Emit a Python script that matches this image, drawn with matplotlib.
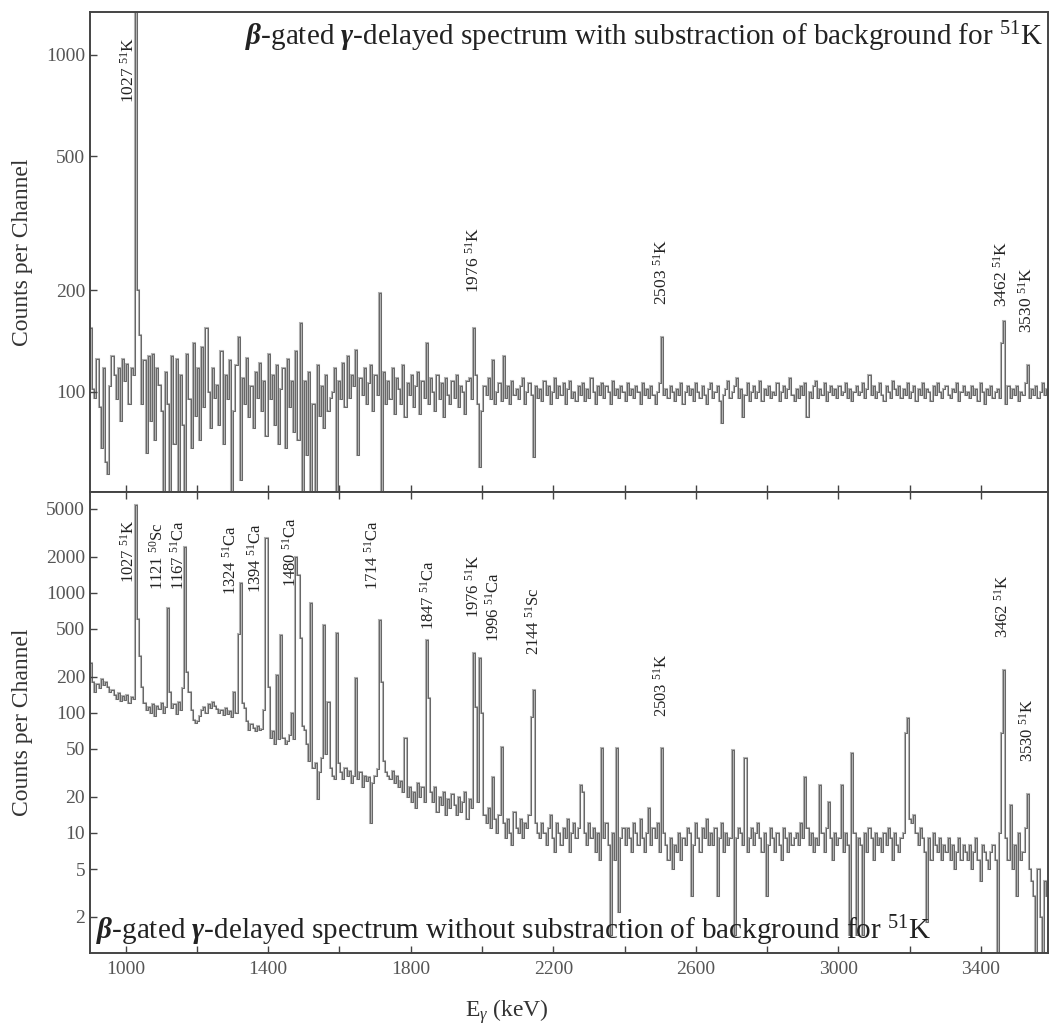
# spectre gamma retarde 51K : avec et sans soustraction du fond
import numpy as np
import matplotlib.pyplot as plt

plt.rcParams['font.family'] = ['Liberation Serif', 'DejaVu Serif']
plt.rcParams['mathtext.fontset'] = 'custom'
plt.rcParams['mathtext.rm'] = 'Liberation Serif'
plt.rcParams['mathtext.it'] = 'Liberation Serif:italic'
plt.rcParams['mathtext.bf'] = 'Liberation Serif:bold:italic'

# canaux de 6 keV a partir de 900 keV
e_start = 900
bin_width = 6

# spectre avec soustraction du fond (coups par canal)
counts_sub = [
    155, 102, 96, 125, 90, 68, 118, 62, 57, 104,
    128, 112, 95, 118, 82, 125, 108, 121, 92, 118,
    112, 3000, 200, 148, 92, 124, 66, 128, 82, 130,
    72, 118, 105, 88, 40, 115, 92, 38, 128, 70,
    125, 40, 112, 80, 42, 130, 95, 68, 140, 85,
    118, 72, 136, 90, 155, 100, 78, 118, 96, 105,
    80, 132, 70, 112, 95, 124, 40, 88, 120, 146,
    55, 110, 92, 126, 84, 104, 78, 115, 96, 122,
    88, 108, 74, 130, 95, 112, 80, 120, 70, 102,
    118, 68, 125, 90, 108, 76, 132, 72, 160, 40,
    108, 65, 115, 40, 92, 40, 120, 85, 104, 78,
    112, 88, 96, 100, 118, 40, 108, 95, 122, 90,
    128, 96, 112, 104, 133, 65, 110, 98, 118, 92,
    106, 120, 88, 112, 98, 197, 40, 115, 92, 108,
    95, 118, 86, 110, 102, 92, 120, 84, 106, 98,
    112, 90, 104, 115, 86, 108, 96, 140, 92, 110,
    100, 88, 112, 95, 106, 84, 110, 98, 92, 108,
    96, 112, 90, 104, 100, 86, 108, 110, 95, 155,
    112, 92, 60, 88, 104, 98, 110, 95, 124, 92,
    100, 106, 94, 128, 96, 104, 92, 108, 98, 102,
    95, 104, 110, 92, 100, 106, 98, 64, 104, 96,
    102, 94, 108, 98, 104, 92, 100, 110, 96, 104,
    98, 106, 92, 102, 108, 96, 100, 94, 104, 98,
    106, 94, 102, 96, 110, 100, 92, 104, 98, 106,
    96, 104, 100, 92, 108, 98, 102, 96, 104, 100,
    94, 106, 98, 102, 96, 104, 100, 92, 106, 98,
    102, 96, 104, 98, 92, 100, 106, 146, 98, 102,
    96, 104, 100, 94, 102, 98, 106, 92, 100, 104,
    98, 102, 94, 106, 100, 96, 104, 98, 92, 102,
    106, 96, 100, 104, 94, 81, 98, 102, 108, 96,
    100, 104, 110, 96, 102, 84, 98, 106, 94, 100,
    104, 96, 100, 108, 94, 102, 98, 104, 96, 100,
    98, 106, 94, 100, 104, 96, 102, 110, 98, 94,
    102, 96, 104, 98, 106, 84, 100, 96, 104, 108,
    96, 102, 98, 106, 94, 100, 104, 98, 102, 96,
    104, 98, 100, 106, 96, 102, 94, 100, 104, 98,
    100, 106, 96, 102, 112, 98, 104, 96, 100, 106,
    98, 94, 104, 100, 96, 108, 102, 98, 104, 96,
    102, 98, 106, 96, 100, 104, 94, 102, 98, 106,
    96, 102, 100, 94, 104, 98, 106, 100, 96, 102,
    104, 98, 96, 102, 100, 106, 94, 100, 104, 98,
    100, 96, 104, 98, 102, 94, 106, 100, 92, 102,
    98, 104, 96, 100, 102, 96, 140, 162, 92, 104,
    96, 102, 98, 104, 94, 100, 98, 106, 120, 96,
    102, 98, 104, 96, 100, 106, 98, 102, 96, 100,
]

# spectre sans soustraction du fond
counts_raw = [
    260, 180, 150, 175, 160, 190, 170, 180, 165, 150,
    155, 140, 130, 145, 125, 138, 128, 140, 120, 135,
    130, 5400, 600, 300, 165, 120, 105, 112, 100, 118,
    95, 115, 108, 120, 100, 112, 750, 150, 110, 118,
    98, 122, 105, 160, 2420, 220, 150, 105, 88, 82,
    85, 95, 105, 112, 100, 118, 110, 122, 115, 108,
    100, 105, 96, 110, 98, 104, 92, 150, 100, 450,
    1210, 120, 110, 85, 72, 80, 75, 70, 78, 72,
    74, 105, 2870, 165, 62, 70, 55, 207, 60, 446,
    62, 55, 58, 66, 100, 60, 2000, 1400, 420, 78,
    72, 55, 40, 825, 35, 38, 19, 32, 42, 540,
    45, 124, 35, 30, 28, 464, 38, 32, 28, 35,
    30, 33, 26, 30, 196, 28, 32, 24, 30, 27,
    29, 12, 26, 30, 34, 596, 181, 40, 32, 30,
    28, 33, 26, 30, 24, 27, 22, 62, 20, 24,
    18, 22, 16, 26, 20, 24, 18, 406, 134, 22,
    18, 24, 15, 20, 17, 22, 14, 19, 16, 21,
    17, 14, 20, 15, 18, 22, 13, 19, 16, 316,
    112, 18, 288, 100, 14, 12, 16, 11, 29, 13,
    10, 14, 52, 12, 9, 13, 10, 8, 15, 11,
    10, 13, 9, 12, 11, 14, 93, 155, 12, 10,
    9, 12, 10, 8, 11, 14, 9, 7, 12, 10,
    8, 11, 9, 13, 7, 10, 12, 9, 11, 25,
    22, 10, 8, 12, 9, 11, 7, 10, 6, 51,
    9, 12, 8, 1.4, 10, 6, 51, 2.2, 9, 11,
    8, 11, 9, 7, 12, 10, 8, 13, 9, 7,
    10, 16, 8, 11, 9, 12, 7, 51, 10, 8,
    6, 9, 5, 8, 7, 10, 6, 9, 8, 11,
    10, 3, 8, 12, 9, 7, 11, 9, 13, 8,
    10, 8, 11, 3, 9, 12, 7, 10, 8, 9,
    49, 1.4, 9, 11, 10, 8, 42, 7, 9, 11,
    8, 10, 12, 9, 7, 10, 3, 8, 11, 9,
    7, 10, 8, 6, 11, 9, 7, 10, 8, 9,
    10, 8, 12, 9, 29, 11, 8, 10, 7, 9,
    8, 25, 10, 7, 11, 18, 9, 6, 10, 8,
    9, 25, 7, 10, 8, 1.4, 46, 10, 1.4, 9,
    8, 1.4, 10, 7, 11, 9, 6, 10, 8, 9,
    7, 10, 8, 11, 9, 6, 10, 8, 7, 9,
    10, 68, 91, 13, 12, 14, 10, 8, 11, 9,
    7, 1.8, 9, 6, 10, 8, 7, 9, 6, 8,
    7, 9, 6, 8, 5, 7, 9, 6, 8, 7,
    6, 8, 5, 7, 9, 6, 4, 8, 7, 6,
    5, 7, 8, 6, 0.5, 10, 68, 228, 9, 6,
    17, 5, 8, 3, 10, 6, 7, 11, 21, 5,
    4, 3, 0.5, 5, 2, 0.5, 4, 3, 0.5, 2,
]

# etiquettes des raies
top_labels = ["1027 $^{51}$K", "1976 $^{51}$K", "2503 $^{51}$K",
              "3462 $^{51}$K", "3530 $^{51}$K"]
top_label_e = [1008, 1976, 2505, 3459, 3529]
top_label_y = [720, 197, 181, 179, 150]

bot_labels = ["1027 $^{51}$K", "1121 $^{50}$Sc", "1167 $^{51}$Ca", "1324 $^{51}$Ca",
              "1394 $^{51}$Ca", "1480 $^{51}$Ca", "1714 $^{51}$Ca", "1847 $^{51}$Ca",
              "1976 $^{51}$K", "1996 $^{51}$Ca", "2144 $^{51}$Sc", "2503 $^{51}$K",
              "3462 $^{51}$K", "3530 $^{51}$K"]
bot_label_e = [1008, 1091, 1150, 1294, 1365, 1463, 1693, 1850,
               1976, 2032, 2144, 2505, 3462, 3532]
bot_label_y = [1212, 1059, 1059, 962, 1000, 1122, 1059, 491,
               619, 390, 304, 92, 422, 39]

edges = e_start + bin_width * np.arange(len(counts_sub) + 1)

fig = plt.figure(figsize=(10.49, 10.25), dpi=100)
ax1 = fig.add_axes([0.0858, 0.52, 0.9133, 0.4683])
ax2 = fig.add_axes([0.0858, 0.0702, 0.9133, 0.4498])

for ax, counts in [(ax1, counts_sub), (ax2, counts_raw)]:
    ax.stairs(counts, edges, baseline=None, color='#b0b0b0', lw=1.5)
    ax.stairs(counts, edges, baseline=None, color='#5a5a5a', lw=0.6)
    ax.set_yscale('log')
    ax.set_xlim(900, 3588)
    ax.set_xticks(np.arange(1000, 3600, 200))
    ax.minorticks_off()
    for s in ax.spines.values():
        s.set_color('#444444')
        s.set_linewidth(1.4)
    ax.tick_params(direction='in', length=5, width=1, colors='#444444',
                   labelcolor='#555555', labelsize=14)
    ax.set_ylabel('Counts per Channel', fontsize=17, color='#333333')
    ax.yaxis.set_label_coords(-0.059, 0.5)

ax1.set_ylim(50.5, 1340)
ax1.set_yticks([100, 200, 500, 1000])
ax1.set_yticklabels(['100', '200', '500', '1000'])
ax1.tick_params(axis='x', labelbottom=False)

ax2.set_ylim(1.0, 6900)
yt = [2, 5, 10, 20, 50, 100, 200, 500, 1000, 2000, 5000]
ax2.set_yticks(yt)
ax2.set_yticklabels([str(v) for v in yt])
ax2.tick_params(axis='x', top=True, pad=6)
ax2.set_xticklabels([str(v) if (v - 1000) % 400 == 0 else ''
                     for v in np.arange(1000, 3600, 200)])

for txt, e, y in zip(top_labels, top_label_e, top_label_y):
    ax1.text(e, y, txt, rotation=90, ha='center', va='bottom', fontsize=12.5, color='#222222')
for txt, e, y in zip(bot_labels, bot_label_e, bot_label_y):
    ax2.text(e, y, txt, rotation=90, ha='center', va='bottom', fontsize=12, color='#222222')

ax1.text(0.995, 0.985, r"$\mathbf{\beta}$-gated $\mathbf{\gamma}$-delayed spectrum with substraction of background for $^{51}$K",
         transform=ax1.transAxes, ha='right', va='top', fontsize=21, color='#222222')
ax2.text(0.006, 0.012, r"$\mathbf{\beta}$-gated $\mathbf{\gamma}$-delayed spectrum without substraction of background for $^{51}$K",
         transform=ax2.transAxes, ha='left', va='bottom', fontsize=21, color='#222222')

fig.text(507 / 1049, 1 - 1012 / 1025, r"E$_{\gamma}$ (keV)", ha='center', va='center',
         fontsize=17, color='#333333')

plt.savefig('out.png', dpi=100)
